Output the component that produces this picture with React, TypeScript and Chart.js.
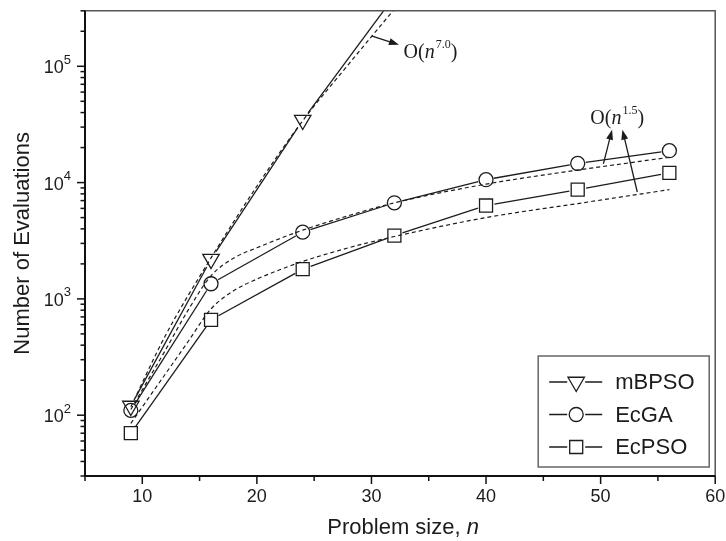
import React, { useEffect, useRef } from 'react';
import { Chart, registerables } from 'chart.js';

Chart.register(...registerables);

// ---- data ----
const problemSizes = [9, 16, 24, 32, 40, 48, 56];
const mbpsoSizes = [9, 16, 24, 32];
const mbpsoEvals = [120, 2200, 34500, 400000];
const ecgaEvals = [110, 1350, 3750, 6700, 10600, 14600, 18800];
const ecpsoEvals = [70, 660, 1800, 3500, 6350, 8700, 12100];

// dashed fitted curves
const fit7Sizes = [9, 12, 16, 20, 24, 28, 32];
const fit7Evals = [118, 480, 2250, 9300, 34000, 104000, 310000];
const fitSizes = [9, 12, 14, 16, 18, 20, 22, 24, 28, 32, 40, 48, 56];
const fitEcgaEvals = [112, 360, 800, 1580, 2250, 2750, 3300, 3900, 5200, 6700, 9700, 12800, 16500];
const fitEcpsoEvals = [85, 225, 430, 820, 1180, 1480, 1780, 2100, 2750, 3440, 5000, 6600, 8700];

// axes
const xMajorTicks = [10, 20, 30, 40, 50, 60];
const xMinorTicks = [5, 15, 25, 35, 45, 55];
const yMajorExponents = [2, 3, 4, 5];
const yMinorMultipliers = [2, 3, 4, 5, 6, 7, 8, 9];
const yMinorDecades = [1, 2, 3, 4, 5];

const seriesNames = ['mBPSO', 'EcGA', 'EcPSO'];
const seriesStyles = ['triangleDown', 'circle', 'rect'];

const SANS = '"Liberation Sans", Arial, sans-serif';
const SERIF = '"Liberation Serif", "Times New Roman", serif';
const INK = '#1c1c1c';

const toPts = (xs: number[], ys: number[]) => xs.map((x, i) => ({ x, y: ys[i] }));

function drawMarker(ctx: CanvasRenderingContext2D, style: string, x: number, y: number) {
  ctx.beginPath();
  if (style === 'circle') {
    ctx.arc(x, y, 7, 0, Math.PI * 2);
  } else if (style === 'rect') {
    ctx.rect(x - 6.5, y - 6.5, 13, 13);
  } else {
    const r = 9.5;
    ctx.moveTo(x, y + r);
    ctx.lineTo(x - r * Math.sin(Math.PI / 3), y - r / 2);
    ctx.lineTo(x + r * Math.sin(Math.PI / 3), y - r / 2);
    ctx.closePath();
  }
  ctx.stroke();
}

function arrow(ctx: CanvasRenderingContext2D, x1: number, y1: number, x2: number, y2: number) {
  const a = Math.atan2(y2 - y1, x2 - x1);
  const len = 10, w = 3.5;
  ctx.beginPath();
  ctx.moveTo(x1, y1);
  ctx.lineTo(x2 - Math.cos(a) * len * 0.8, y2 - Math.sin(a) * len * 0.8);
  ctx.stroke();
  ctx.beginPath();
  ctx.moveTo(x2, y2);
  ctx.lineTo(x2 - Math.cos(a) * len - Math.sin(a) * w, y2 - Math.sin(a) * len + Math.cos(a) * w);
  ctx.lineTo(x2 - Math.cos(a) * len + Math.sin(a) * w, y2 - Math.sin(a) * len - Math.cos(a) * w);
  ctx.closePath();
  ctx.fill();
}

function bigO(ctx: CanvasRenderingContext2D, x: number, y: number, exp: string) {
  ctx.textBaseline = 'alphabetic';
  ctx.textAlign = 'left';
  ctx.font = `20px ${SERIF}`;
  ctx.fillText('O(', x, y);
  let cx = x + ctx.measureText('O(').width;
  ctx.font = `italic 20px ${SERIF}`;
  ctx.fillText('n', cx, y);
  cx += ctx.measureText('n').width + 1;
  ctx.font = `12px ${SERIF}`;
  ctx.fillText(exp, cx, y - 10);
  cx += ctx.measureText(exp).width;
  ctx.font = `20px ${SERIF}`;
  ctx.fillText(')', cx, y);
}

const decorPlugin = {
  id: 'decor',
  afterDatasetsDraw(chart: any) {
    const ctx: CanvasRenderingContext2D = chart.ctx;
    const ca = chart.chartArea;
    ctx.save();
    ctx.beginPath();
    ctx.rect(ca.left, ca.top, ca.right - ca.left, ca.bottom - ca.top);
    ctx.clip();
    ctx.strokeStyle = INK;
    ctx.lineWidth = 1.3;
    const gaps = [9, 8, 8.5];
    [3, 4, 5].forEach((di, k) => {
      const pts = chart.getDatasetMeta(di).data;
      for (let i = 0; i < pts.length - 1; i++) {
        const a = pts[i], b = pts[i + 1];
        const dx = b.x - a.x, dy = b.y - a.y;
        const L = Math.hypot(dx, dy);
        if (L < 2 * gaps[k]) continue;
        const ux = dx / L, uy = dy / L;
        ctx.beginPath();
        ctx.moveTo(a.x + ux * gaps[k], a.y + uy * gaps[k]);
        ctx.lineTo(b.x - ux * gaps[k], b.y - uy * gaps[k]);
        ctx.stroke();
      }
    });
    ctx.restore();
  },
  afterDraw(chart: any) {
    const ctx: CanvasRenderingContext2D = chart.ctx;
    const ca = chart.chartArea;
    const xs = chart.scales.x, ys = chart.scales.y;
    ctx.save();
    // frame
    ctx.strokeStyle = '#555';
    ctx.lineWidth = 1.5;
    ctx.beginPath();
    ctx.moveTo(ca.left, ca.top);
    ctx.lineTo(ca.right, ca.top);
    ctx.lineTo(ca.right, ca.bottom);
    ctx.stroke();
    ctx.strokeStyle = '#111';
    ctx.lineWidth = 2;
    ctx.beginPath();
    ctx.moveTo(ca.left, ca.top);
    ctx.lineTo(ca.left, ca.bottom);
    ctx.lineTo(ca.right, ca.bottom);
    ctx.stroke();

    // x ticks
    ctx.lineWidth = 1.5;
    ctx.fillStyle = INK;
    ctx.font = `18px ${SANS}`;
    ctx.textAlign = 'center';
    ctx.textBaseline = 'middle';
    xMajorTicks.forEach((v) => {
      const px = xs.getPixelForValue(v);
      ctx.beginPath();
      ctx.moveTo(px, ca.bottom);
      ctx.lineTo(px, ca.bottom + 8);
      ctx.stroke();
      ctx.fillText(String(v), px, ca.bottom + 21);
    });
    xMinorTicks.forEach((v) => {
      const px = xs.getPixelForValue(v);
      ctx.beginPath();
      ctx.moveTo(px, ca.bottom);
      ctx.lineTo(px, ca.bottom + 5);
      ctx.stroke();
    });

    // y ticks
    yMajorExponents.forEach((e) => {
      const py = ys.getPixelForValue(Math.pow(10, e));
      ctx.beginPath();
      ctx.moveTo(ca.left, py);
      ctx.lineTo(ca.left - 8, py);
      ctx.stroke();
      const right = ca.left - 14;
      ctx.textAlign = 'right';
      ctx.font = `13px ${SANS}`;
      ctx.textBaseline = 'middle';
      const sw = ctx.measureText(String(e)).width;
      ctx.fillText(String(e), right, py - 6);
      ctx.font = `18px ${SANS}`;
      ctx.fillText('10', right - sw, py + 2);
    });
    yMinorDecades.forEach((d) => {
      yMinorMultipliers.forEach((m) => {
        const v = m * Math.pow(10, d);
        if (v < ys.min || v > ys.max) return;
        const py = ys.getPixelForValue(v);
        ctx.beginPath();
        ctx.moveTo(ca.left, py);
        ctx.lineTo(ca.left - 4.5, py);
        ctx.stroke();
      });
    });

    // axis titles
    ctx.fillStyle = INK;
    ctx.textBaseline = 'middle';
    const t1 = 'Problem size, ';
    ctx.font = `22px ${SANS}`;
    const w1 = ctx.measureText(t1).width;
    ctx.font = `italic 22px ${SANS}`;
    const w2 = ctx.measureText('n').width;
    const cx = (ca.left + ca.right) / 2 + 3;
    const sx = cx - (w1 + w2) / 2;
    ctx.textAlign = 'left';
    ctx.font = `22px ${SANS}`;
    ctx.fillText(t1, sx, 528);
    ctx.font = `italic 22px ${SANS}`;
    ctx.fillText('n', sx + w1, 528);

    ctx.save();
    ctx.translate(23, (ca.top + ca.bottom) / 2);
    ctx.rotate(-Math.PI / 2);
    ctx.textAlign = 'center';
    ctx.font = `22px ${SANS}`;
    ctx.fillText('Number of Evaluations', 0, 0);
    ctx.restore();

    // legend
    const bw = 171, bh = 111;
    const bx = ca.right - 177, by = ca.bottom - 9 - bh;
    ctx.fillStyle = '#fff';
    ctx.fillRect(bx, by, bw, bh);
    ctx.strokeStyle = '#666';
    ctx.lineWidth = 1.5;
    ctx.strokeRect(bx, by, bw, bh);
    ctx.strokeStyle = INK;
    ctx.fillStyle = INK;
    ctx.lineWidth = 1.3;
    ctx.font = `22px ${SANS}`;
    ctx.textAlign = 'left';
    ctx.textBaseline = 'middle';
    seriesNames.forEach((name, i) => {
      const ry = by + 26 + i * 32.5;
      const mx = bx + 38;
      ctx.beginPath();
      ctx.moveTo(bx + 11, ry);
      ctx.lineTo(mx - 9, ry);
      ctx.moveTo(mx + 9, ry);
      ctx.lineTo(bx + 64, ry);
      ctx.stroke();
      drawMarker(ctx, seriesStyles[i], mx, ry);
      ctx.fillText(name, bx + 77, ry + 1);
    });

    // annotations
    ctx.lineWidth = 1.3;
    ctx.strokeStyle = INK;
    ctx.fillStyle = INK;
    const P = (x: number, y: number) => [xs.getPixelForValue(x), ys.getPixelForValue(y)];
    const [a1x, a1y] = P(30.0, 183000);
    const [a2x, a2y] = P(32.4, 153000);
    arrow(ctx, a1x, a1y, a2x, a2y);
    const [t7x, t7y] = P(32.8, 118000);
    bigO(ctx, t7x, t7y, '7.0');

    const [b1x, b1y] = P(50.24, 14500);
    const [b2x, b2y] = P(51.0, 28500);
    arrow(ctx, b1x, b1y, b2x, b2y);
    const [c1x, c1y] = P(53.2, 8300);
    const [c2x, c2y] = P(51.9, 28500);
    arrow(ctx, c1x, c1y, c2x, c2y);
    const [t15x, t15y] = P(49.1, 31800);
    bigO(ctx, t15x, t15y, '1.5');

    ctx.restore();
  },
};

export default function App() {
  const ref = useRef<HTMLCanvasElement | null>(null);
  useEffect(() => {
    document.body.style.margin = '0';
    const canvas = ref.current;
    if (!canvas) return;
    const dashed = (data: any[]) => ({
      data,
      borderColor: INK,
      borderWidth: 1.2,
      borderDash: [4, 3],
      pointRadius: 0,
      fill: false,
      cubicInterpolationMode: 'monotone' as const,
      order: 2,
    });
    const markers = (data: any[], pointStyle: any, radius: number, rotation = 0) => ({
      data,
      showLine: false,
      borderColor: INK,
      backgroundColor: 'rgba(0,0,0,0)',
      pointStyle,
      pointRadius: radius,
      pointRotation: rotation,
      pointBorderWidth: 1.3,
      pointBorderColor: INK,
      pointBackgroundColor: 'rgba(0,0,0,0)',
      order: 1,
    });
    const chart = new Chart(canvas, {
      type: 'line',
      data: {
        datasets: [
          dashed(toPts(fit7Sizes, fit7Evals)),
          dashed(toPts(fitSizes, fitEcgaEvals)),
          dashed(toPts(fitSizes, fitEcpsoEvals)),
          markers(toPts(mbpsoSizes, mbpsoEvals), 'triangle', 9.5, 180),
          markers(toPts(problemSizes, ecgaEvals), 'circle', 7),
          markers(toPts(problemSizes, ecpsoEvals), 'rect', 9.2),
        ] as any,
      },
      options: {
        animation: false,
        responsive: false,
        devicePixelRatio: 1,
        layout: { padding: { left: 85, right: 10, top: 8, bottom: 65 } },
        plugins: { legend: { display: false }, tooltip: { enabled: false } },
        events: [],
        scales: {
          x: { type: 'linear', min: 5, max: 60, display: false },
          y: { type: 'logarithmic', min: 30, max: 300000, display: false },
        },
      },
      plugins: [decorPlugin],
    });
    return () => chart.destroy();
  }, []);
  return (
    <div style={{ width: 726, height: 541, background: '#fff' }}>
      <canvas ref={ref} width={726} height={541} style={{ display: 'block' }} />
    </div>
  );
}
